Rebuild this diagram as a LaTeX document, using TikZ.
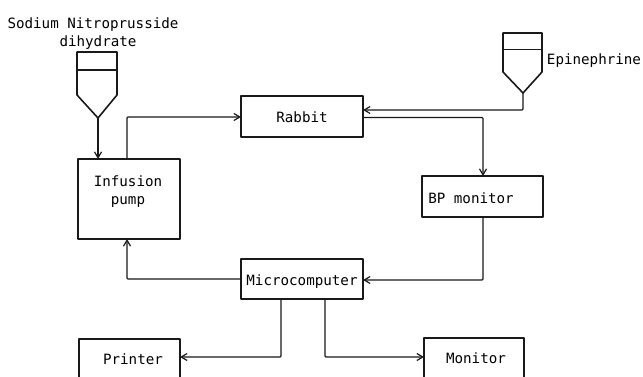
\documentclass[tikz,border=0pt]{standalone}
\usepackage{fontspec}
\setmainfont{DejaVu Sans Mono}
\usetikzlibrary{arrows.meta}
\tikzset{
  x=1pt,y=-1pt,
  boxnode/.style={draw=black!90,line width=1.6pt,inner sep=0pt,outer sep=0pt,line join=round},
  opennode/.style={inner sep=0pt,outer sep=0pt},
  lbl/.style={inner sep=0pt,outer sep=0pt,font=\fontsize{14.2}{18}\selectfont,text=black,align=center},
  wire/.style={draw=black!90,line width=1.4pt,rounded corners=1pt,-{Straight Barb[length=6pt,width=7pt,line width=1.2pt]}},
  vessel/.style={draw=black!90,line width=1.6pt,line join=round}
}
\begin{document}
\begin{tikzpicture}
\useasboundingbox (0,0) rectangle (643,377);
% boxes
\node[boxnode,minimum width=122pt,minimum height=41pt] (rabbit) at (302,116.5) {};
\node[boxnode,minimum width=102pt,minimum height=80pt] (infusion) at (129,199) {};
\node[boxnode,minimum width=121pt,minimum height=41pt] (bp) at (482.5,196.5) {};
\node[boxnode,minimum width=122pt,minimum height=40pt] (micro) at (302,279) {};
\node[opennode,minimum width=101pt,minimum height=38pt] (printer) at (129.5,358) {};
\node[opennode,minimum width=100pt,minimum height=39pt] (monitor) at (474,357.5) {};
\draw[vessel] (printer.south west) -- (printer.north west) -- (printer.north east) -- (printer.south east);
\draw[vessel] (monitor.south west) -- (monitor.north west) -- (monitor.north east) -- (monitor.south east);
% labels
\node[lbl] (trabbit) at (302,117) {Rabbit};
\node[lbl] (tinf) at (128,192) {Infusion\\pump};
\node[lbl] (tbp) at (471,198) {BP monitor};
\node[lbl] (tmicro) at (302,282) {Microcomputer};
\node[lbl] (tprinter) at (133,359) {Printer};
\node[lbl] (tmonitor) at (476,358) {Monitor};
\node[lbl] (tsod) at (93,34) {Sodium Nitroprusside\\\hspace*{10pt}dihydrate};
\node[lbl] (tepi) at (594,61) {Epinephrine};
% vessels
\coordinate (ltip) at (98,118);
\coordinate (rtip) at (523,93);
\draw[vessel] (ltip) -- (77,95) -- (77,52) -- (117,52) -- (117,95) -- cycle;
\draw[vessel] (77,70) -- (117,70);
\draw[vessel] (rtip) -- (503,72) -- (503,33) -- (542,33) -- (542,72) -- cycle;
\draw[vessel] (503,49.5) -- (542,49.5);
% connector helpers
\coordinate (infout) at (127,159);
\coordinate (infin) at (127,239);
\coordinate (microleft) at (241,279);
\coordinate (rabbitin) at (241,117);
\coordinate (rabbitepi) at (363,110);
\coordinate (rabbitout) at (363,117.5);
\coordinate (bpin) at (483,176);
\coordinate (bpout) at (483,217);
\coordinate (microin) at (363,280);
\coordinate (microa) at (281,299);
\coordinate (microb) at (325,299);
\coordinate (printerin) at (180,357);
\coordinate (monitorin) at (424,357);
\coordinate (infdrop) at (98,159);
% connectors
\draw[wire] (ltip) -- (infdrop);
\draw[wire] (infout) |- (rabbitin);
\draw[wire] (rtip) |- (rabbitepi);
\draw[wire] (rabbitout) -| (bpin);
\draw[wire] (bpout) |- (microin);
\draw[wire] (microleft) -| (infin);
\draw[wire] (microa) |- (printerin);
\draw[wire] (microb) |- (monitorin);
\end{tikzpicture}
\end{document}
